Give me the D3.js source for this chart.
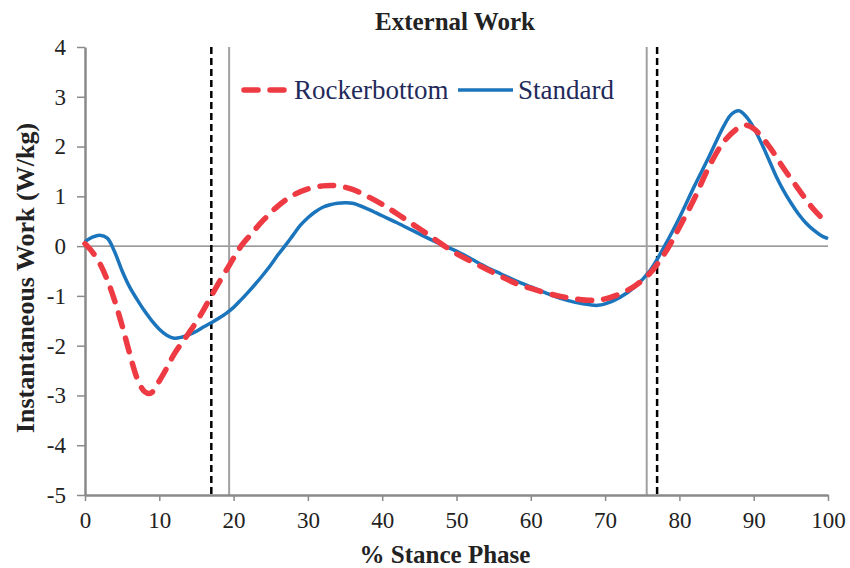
<!DOCTYPE html>
<html>
<head>
<meta charset="utf-8">
<script src="https://cdn.jsdelivr.net/npm/d3@7"></script>
<style>
  body { margin: 0; background: #fff; }
  text { font-family: "Liberation Serif", "Times New Roman", serif; }
</style>
</head>
<body>
<svg id="chart" width="850" height="568"></svg>
<script>
// % stance phase samples and the two series
var stdX = [0,1,2,3,4,5,6,7,8,9,10,11,12,13,14,15,16,17,18,19,20,21,22,23,24,25,26,27,28,29,30,31,32,33,34,35,36,38,40,42,44,46,48,50,52,54,56,58,60,62,64,66,68,69,70,72,74,76,78,80,82,84,86,87,88,89,90,91,92,93,94,95,96,97,98,99,100];
var stdY = [0.09,0.18,0.22,0.16,-0.12,-0.5,-0.82,-1.07,-1.3,-1.5,-1.67,-1.79,-1.85,-1.83,-1.78,-1.71,-1.62,-1.54,-1.45,-1.35,-1.23,-1.08,-0.92,-0.75,-0.57,-0.38,-0.17,0.02,0.22,0.42,0.57,0.69,0.78,0.83,0.86,0.87,0.86,0.75,0.61,0.47,0.32,0.17,0.03,-0.1,-0.26,-0.42,-0.56,-0.7,-0.82,-0.94,-1.05,-1.13,-1.18,-1.19,-1.16,-1.03,-0.82,-0.5,0.0,0.57,1.2,1.8,2.42,2.65,2.72,2.6,2.38,2.08,1.75,1.41,1.12,0.87,0.65,0.47,0.33,0.22,0.15];

var rockX = [0,1,2,3,4,5,6,7,8,8.7,9,10,11,12,13,14,15,16,17,18,19,20,21,22,24,26,28,30,32,33,34,36,38,40,42,44,46,48,50,52,54,56,58,60,62,64,66,68,70,72,74,76,78,79,80,82,84,86,88,89,90,92,94,96,98,100];
var rockY = [0.05,-0.12,-0.35,-0.68,-1.1,-1.6,-2.15,-2.65,-2.92,-2.96,-2.94,-2.71,-2.45,-2.17,-1.95,-1.74,-1.52,-1.27,-1.0,-0.74,-0.49,-0.24,0.0,0.18,0.52,0.81,1.02,1.15,1.21,1.22,1.21,1.14,1.0,0.84,0.65,0.45,0.25,0.04,-0.15,-0.31,-0.46,-0.61,-0.75,-0.85,-0.94,-1.01,-1.06,-1.09,-1.06,-0.96,-0.8,-0.55,-0.15,0.1,0.38,0.95,1.6,2.1,2.38,2.43,2.36,2.02,1.57,1.15,0.75,0.44];

var xTicks = [0,10,20,30,40,50,60,70,80,90,100];
var yTicks = [4,3,2,1,0,-1,-2,-3,-4,-5];
var solidMarks = [19.4, 75.6];
var dashedMarks = [17.0, 77.0];
var legendNames = ["Rockerbottom", "Standard"];

var svg = d3.select("#chart"),
    margin = { top: 47, right: 22, bottom: 73, left: 85 },
    width = 850 - margin.left - margin.right,
    height = 568 - margin.top - margin.bottom;

var g = svg.append("g")
    .attr("transform", "translate(" + margin.left + "," + margin.top + ")");

var x = d3.scaleLinear().domain([0, 100]).range([0, width]);
var y = d3.scaleLinear().domain([-5, 4]).range([height, 0]);

// zero line
g.append("line")
    .attr("x1", x(0)).attr("x2", x(100))
    .attr("y1", y(0)).attr("y2", y(0))
    .attr("stroke", "#7a7a7a").attr("stroke-width", 1.2);

// phase markers
g.selectAll(".solidMark")
    .data(solidMarks)
    .enter().append("line")
        .attr("x1", function(d) { return x(d); })
        .attr("x2", function(d) { return x(d); })
        .attr("y1", y(4)).attr("y2", y(-5))
        .attr("stroke", "#a0a0a0").attr("stroke-width", 2);

g.selectAll(".dashedMark")
    .data(dashedMarks)
    .enter().append("line")
        .attr("x1", function(d) { return x(d); })
        .attr("x2", function(d) { return x(d); })
        .attr("y1", y(4)).attr("y2", y(-5))
        .attr("stroke", "#000").attr("stroke-width", 2.5)
        .attr("stroke-dasharray", "7,4");

// axes
var fmt = function(d) { return String(d); };

var xAxis = g.append("g")
    .attr("transform", "translate(0," + height + ")")
    .call(d3.axisBottom(x).tickValues(xTicks).tickFormat(fmt).tickSize(6).tickSizeOuter(0).tickPadding(11));

var yAxis = g.append("g")
    .call(d3.axisLeft(y).tickValues(yTicks).tickFormat(fmt).tickSize(8).tickSizeOuter(0).tickPadding(11));

[xAxis, yAxis].forEach(function(a) {
    a.select(".domain").attr("stroke", "#8a8a8a").attr("stroke-width", 2.5);
    a.selectAll(".tick line").attr("stroke", "#8a8a8a").attr("stroke-width", 1.5);
    a.selectAll(".tick text")
        .attr("fill", "#222")
        .style("font-family", "'Liberation Serif', serif")
        .style("font-size", "23px");
});

// series
var line = d3.line()
    .x(function(d) { return x(d[0]); })
    .y(function(d) { return y(d[1]); })
    .curve(d3.curveCatmullRom.alpha(0.5));

var rockData = rockX.map(function(v, i) { return [v, rockY[i]]; });
var stdData = stdX.map(function(v, i) { return [v, stdY[i]]; });

g.append("path")
    .datum(stdData)
    .attr("d", line)
    .attr("fill", "none")
    .attr("stroke", "#1a75bc")
    .attr("stroke-width", 3.5);

g.append("path")
    .datum(rockData)
    .attr("d", line)
    .attr("fill", "none")
    .attr("stroke", "#ee3a43")
    .attr("stroke-width", 5.5)
    .attr("stroke-linecap", "round")
    .attr("stroke-dasharray", "14,12");

// legend
var legend = svg.append("g");
legend.append("line")
    .attr("x1", 244).attr("x2", 286).attr("y1", 90).attr("y2", 90)
    .attr("stroke", "#ee3a43").attr("stroke-width", 5.5)
    .attr("stroke-linecap", "round").attr("stroke-dasharray", "14,12");
legend.append("text")
    .attr("x", 294).attr("y", 99)
    .attr("fill", "#1f2a5a")
    .style("font-size", "27px")
    .text(legendNames[0]);
legend.append("line")
    .attr("x1", 458).attr("x2", 513).attr("y1", 90).attr("y2", 90)
    .attr("stroke", "#1a75bc").attr("stroke-width", 3.5);
legend.append("text")
    .attr("x", 518).attr("y", 99)
    .attr("fill", "#1f2a5a")
    .style("font-size", "27px")
    .text(legendNames[1]);

// titles
svg.append("text")
    .attr("x", 455).attr("y", 30)
    .attr("text-anchor", "middle")
    .attr("font-weight", "bold")
    .attr("fill", "#222")
    .style("font-size", "25px")
    .text("External Work");

svg.append("text")
    .attr("x", 445).attr("y", 563)
    .attr("text-anchor", "middle")
    .attr("font-weight", "bold")
    .attr("fill", "#222")
    .style("font-size", "25px")
    .text("% Stance Phase");

svg.append("text")
    .attr("transform", "translate(34,278) rotate(-90)")
    .attr("text-anchor", "middle")
    .attr("font-weight", "bold")
    .attr("fill", "#222")
    .style("font-size", "26px")
    .text("Instantaneous Work (W/kg)");
</script>
</body>
</html>
